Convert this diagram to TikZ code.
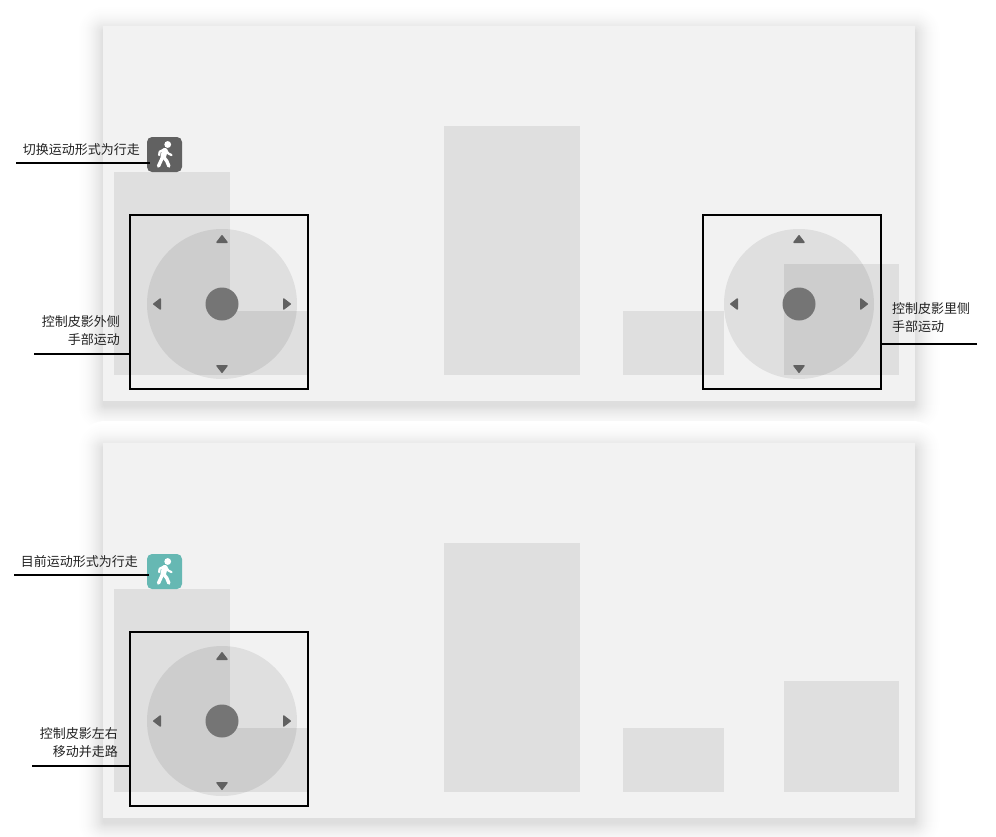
\documentclass[tikz,border=0pt]{standalone}
\usepackage{fontspec}
\setmainfont{Noto Sans CJK SC}
\usetikzlibrary{calc,positioning}
\definecolor{PanelGray}{HTML}{F2F2F2}
\definecolor{BlockGray}{HTML}{DFDFDF}
\definecolor{KnobGray}{HTML}{757575}
\definecolor{TipGray}{HTML}{616161}
\definecolor{IconDark}{HTML}{616161}
\definecolor{IconTeal}{HTML}{66B8B3}
\definecolor{LabelGray}{HTML}{222222}

\tikzset{
    block/.style={fill=BlockGray, draw=none},
    ctrlbox/.style={draw=black, line width=2, minimum width=178, minimum height=174, inner sep=0, outer sep=0},
    iconbox/.style={rounded corners=5, minimum size=35, inner sep=0, outer sep=0},
    leader/.style={draw=black, line width=2},
    caption/.style={text=LabelGray, inner sep=0, font=\fontsize{13}{18}\selectfont},
    joystick/.pic={
        \fill [black, opacity=0.08] (0,0) circle (75);
        \fill [KnobGray] (0,0) circle (16.5);
        \foreach \a in {0,90,180,270} {
            \filldraw [TipGray, rotate=\a, line width=1.4, line join=round] (61.7,-5) -- (68.3,0) -- (61.7,5) -- cycle;
        }
    },
    walker/.pic={
        \fill [white] (3.2,-10) circle (3.4);
        \draw [white, line width=5.6, line cap=round, line join=round] (0.4,-3.8) -- (-1.2,1.8);
        \draw [white, line width=3.4, line cap=round, line join=round] (-1.6,2) -- (-6,11.6);
        \draw [white, line width=3.4, line cap=round, line join=round] (-0.6,3) -- (2.2,6.4) -- (4.4,11.6);
        \draw [white, line width=2.2, line cap=round, line join=round] (1.4,-4.6) -- (3.8,-1) -- (7,0.6);
        \draw [white, line width=2.2, line cap=round, line join=round] (-0.6,-5) -- (-4.8,-2.8) -- (-5.4,0.6);
    }
}

\begin{document}
\begin{tikzpicture}[x=1pt, y=-1pt]
\useasboundingbox (0,0) rectangle (996,836);

% panels with their shadow
\foreach \top in {26,443} {
    \foreach \i [evaluate=\i as \pct using 13*(1-\i/28)*(1-\i/28)] in {27,26,...,0} {
        \fill [black!\pct!white, rounded corners=\i+2] (103-\i,\top+5-\i) rectangle (915+\i,\top+380+\i);
    }
    \fill [PanelGray] (103,\top) rectangle (915,\top+375);
}

% blocks, upper panel
\fill [block] (114,172) rectangle (230,375);
\fill [block] (230,311) rectangle (308,375);
\fill [block] (444,126) rectangle (580,375);
\fill [block] (623,311) rectangle (724,375);
\fill [block] (784,264) rectangle (899,375);

% blocks, lower panel
\fill [block] (114,589) rectangle (230,792);
\fill [block] (230,728) rectangle (308,792);
\fill [block] (444,543) rectangle (580,792);
\fill [block] (623,728) rectangle (724,792);
\fill [block] (784,681) rectangle (899,792);

\pic at (222,304) {joystick};
\pic at (799,304) {joystick};
\pic at (222,721) {joystick};

\node (boxOuter) [ctrlbox] at (219,302) {};
\node (boxInner) [ctrlbox] at (792,302) {};
\node (boxMove) [ctrlbox] at (219,719) {};

\node (iconSwitch) [iconbox, fill=IconDark] at (164.5,154.5) {};
\node (iconWalk) [iconbox, fill=IconTeal] at (164.5,571.5) {};
\pic at (iconSwitch) {walker};
\pic at (iconWalk) {walker};

\node (capSwitch) [caption, anchor=east] at (140,149.5) {切换运动形式为行走};
\node (capWalk) [caption, anchor=east] at (138,562) {目前运动形式为行走};
\node (capOuter) [caption, anchor=east, align=right] at (120,330.5) {控制皮影外侧\\手部运动};
\node (capInner) [caption, anchor=west, align=left] at (892,318) {控制皮影里侧\\手部运动};
\node (capMove) [caption, anchor=east, align=right] at (118,742.5) {控制皮影左右\\移动并走路};

\coordinate (endSwitch) at (16,163);
\coordinate (endWalk) at (14,575);
\coordinate (endOuter) at (34,354);
\coordinate (endInner) at (977,344);
\coordinate (endMove) at (32,766);

\draw [leader] (endSwitch) -- ([xshift=3]iconSwitch.west |- endSwitch);
\draw [leader] (endWalk) -- ([xshift=2]iconWalk.west |- endWalk);
\draw [leader] (endOuter) -- (boxOuter.west |- endOuter);
\draw [leader] (endInner) -- (boxInner.east |- endInner);
\draw [leader] (endMove) -- (boxMove.west |- endMove);

\end{tikzpicture}
\end{document}
